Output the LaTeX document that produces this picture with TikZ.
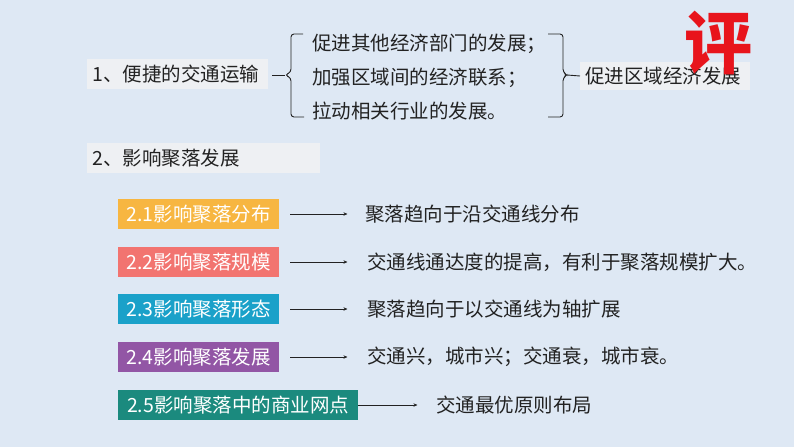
\documentclass[tikz,border=0pt]{standalone}
\usepackage{fontspec}
\setmainfont{Noto Sans CJK SC}
\usetikzlibrary{arrows.meta}
\definecolor{bg}{HTML}{DEE8F4}
\definecolor{lbox}{HTML}{EEF0F3}
\definecolor{txt}{HTML}{222222}
\definecolor{cA}{HTML}{F7B641}
\definecolor{cB}{HTML}{F27470}
\definecolor{cC}{HTML}{1AA1C9}
\definecolor{cD}{HTML}{9256A5}
\definecolor{cE}{HTML}{1B8A7E}
\definecolor{pred}{HTML}{E8141C}
\tikzset{
  plain/.style={anchor=west,inner sep=0pt,text=txt,font=\fontsize{19.5}{22}\selectfont},
  graybox/.style={anchor=west,fill=lbox,inner xsep=5pt,inner ysep=0pt,minimum height=30pt,text=txt,font=\fontsize{19.5}{22}\selectfont},
  colbox/.style={anchor=west,inner xsep=5pt,inner ysep=0pt,minimum height=30pt,text=white,font=\fontsize{19.5}{22}\selectfont},
  bracel/.style={draw=txt,line width=0.9pt,rounded corners=3pt},
  arr/.style={draw=txt,line width=0.8pt,-{Stealth[length=4pt,width=3.5pt]}}
}
\begin{document}
\begin{tikzpicture}[x=1pt,y=-1pt]
\fill[bg] (0,0) rectangle (794,447);
\useasboundingbox (0,0) rectangle (794,447);
% part 1
\node[graybox,minimum width=181pt,align=left,text width=171pt] (t1) at (87,74) {1、便捷的交通运输};
\coordinate (lbt) at (285,75);
\draw[bracel] (303,34) -- (291,34) -- (291,72) -- (lbt) -- (291,78) -- (291,117) -- (304,117);
\draw[txt,line width=0.9pt] (t1.east) ++(4,1) -- (lbt);
\node[plain] (l1) at (312,44) {促进其他经济部门的发展；};
\node[plain] (l2) at (312,78) {加强区域间的经济联系；};
\node[plain] (l3) at (312,111) {拉动相关行业的发展。};
\coordinate (rbt) at (567,75);
\draw[bracel] (548,34) -- (563,34) -- (563,72) -- (rbt) -- (563,78) -- (563,117) -- (548,117);
\node[graybox,minimum width=170pt,minimum height=28pt,text width=160pt,align=left] (res) at (580,76) {促进区域经济发展};
\draw[txt,line width=0.9pt] (rbt) -- (res.west);
\node[anchor=center,inner sep=0pt,text=pred,font=\fontsize{68}{70}\selectfont\bfseries] (ping) at (718,43) {评};
% part 2
\node[graybox,minimum width=233pt,text width=223pt,align=left] (t2) at (87,158) {2、影响聚落发展};
\node[colbox,fill=cA,minimum width=161pt] (b1) at (118,214) {2.1影响聚落分布};
\node[colbox,fill=cB,minimum width=161pt] (b2) at (118,262) {2.2影响聚落规模};
\node[colbox,fill=cC,minimum width=161pt] (b3) at (118,309) {2.3影响聚落形态};
\node[colbox,fill=cD,minimum width=161pt] (b4) at (118,357) {2.4影响聚落发展};
\node[colbox,fill=cE,minimum width=240pt] (b5) at (118,405) {2.5影响聚落中的商业网点};
\node[plain] (r1) at (365,214) {聚落趋向于沿交通线分布};
\node[plain] (r2) at (367,262) {交通线通达度的提高，有利于聚落规模扩大。};
\node[plain] (r3) at (367,309) {聚落趋向于以交通线为轴扩展};
\node[plain] (r4) at (367,357) {交通兴，城市兴；交通衰，城市衰。};
\node[plain] (r5) at (436,405) {交通最优原则布局};
\draw[arr] (b1.east) ++(11,0) -- ++(57,0);
\draw[arr] (b2.east) ++(11,0) -- ++(57,0);
\draw[arr] (b3.east) ++(11,0) -- ++(57,0);
\draw[arr] (b4.east) ++(11,0) -- ++(57,0);
\draw[arr] (b5.east) -- ++(59,0);
\end{tikzpicture}
\end{document}
